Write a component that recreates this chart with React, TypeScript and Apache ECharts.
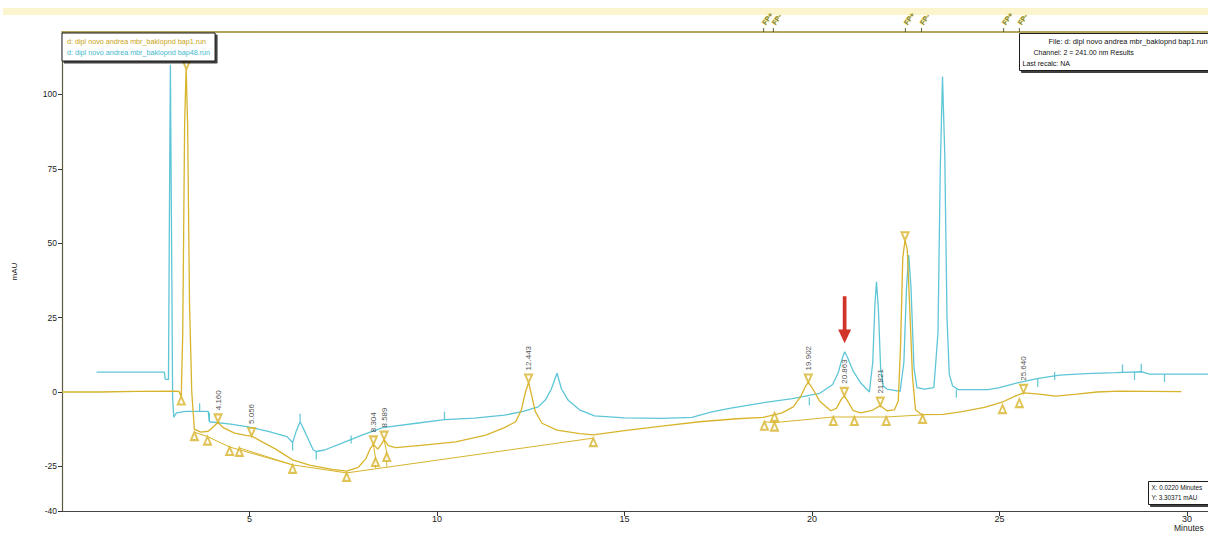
import React, { useEffect, useRef } from 'react';
import * as echarts from 'echarts';

const FONT = '"Liberation Sans", Arial, sans-serif';
const YELLOW = '#d8b42c';
const CYAN = '#5ec6d6';

const FILE1 = 'd: dipl novo andrea mbr_baklopnd bap1.run';
const FILE48 = 'd: dipl novo andrea mbr_baklopnd bap48.run';

const xMin = 0;
const xMax = 30.56;
const yMin = -40;
const yMax = 121;
const yTickValues = [-40, -25, 0, 25, 50, 75, 100];

// bap1.run (yellow) signal: [minutes, mAU]
const yellowSignal: [number, number][] = [
  [0, 0], [1, 0], [2, 0.2], [3.0, 0.3], [3.12, 0.2], [3.18, -1.5], [3.22, 20], [3.27, 90], [3.31, 109],
  [3.35, 90], [3.4, 30], [3.46, 0], [3.53, -12.5], [3.7, -13.5], [3.9, -13.2], [4.05, -11.5], [4.16, -10.2],
  [4.3, -12], [4.6, -13.8], [4.9, -14.6], [5.056, -14.8], [5.3, -16.5], [5.7, -19.2], [6.15, -22.8],
  [6.6, -24.6], [7.2, -26], [7.59, -26.6], [7.9, -25.3], [8.1, -22.5], [8.22, -19], [8.304, -17.6],
  [8.42, -19.2], [8.52, -17.5], [8.589, -16], [8.7, -18], [8.9, -18.7], [9.5, -18], [10.5, -16.8],
  [11.3, -14.5], [11.8, -12], [12.1, -10], [12.25, -6], [12.36, 0], [12.443, 3.2], [12.52, -1],
  [12.62, -6.5], [12.8, -10.5], [13.2, -12.8], [13.8, -14], [14.17, -14.4], [15.0, -13], [16.0, -11.5],
  [17.0, -10], [18.0, -9], [18.7, -8.5], [19.2, -7], [19.5, -5], [19.7, -1.5], [19.83, 2], [19.902, 3.2],
  [20.0, 1.5], [20.2, -3], [20.5, -6.3], [20.65, -5.5], [20.78, -2.5], [20.863, -1.3], [20.95, -3],
  [21.1, -6.3], [21.3, -7], [21.6, -6.2], [21.821, -4.6], [22.0, -6.3], [22.2, -6], [22.3, -3],
  [22.36, 15], [22.42, 45], [22.48, 51], [22.54, 48], [22.6, 30], [22.68, 5], [22.76, -6], [22.92, -7.6],
  [23.5, -7.5], [24.0, -6.6], [24.6, -5.2], [25.11, -3.2], [25.4, -1.5], [25.64, -0.3], [26.0, -0.6],
  [26.5, -1.4], [27.0, -0.8], [27.6, 0], [28.2, 0.3], [29.0, 0.2], [29.85, 0.1],
];

// bap48.run (cyan) signal: [minutes, mAU]
const cyanSignal: [number, number][] = [
  [0.92, 6.7], [2.0, 6.7], [2.73, 6.7], [2.75, 4.3], [2.84, 4.2], [2.86, 50], [2.89, 110], [2.92, 55],
  [2.95, -2], [2.98, -8.5], [3.05, -7], [3.3, -6.5], [3.9, -6.5], [3.93, -10], [4.5, -10.8], [5.0, -11.8],
  [5.5, -13.2], [6.0, -15], [6.15, -17], [6.25, -13], [6.35, -10], [6.5, -14], [6.7, -19.5], [6.78, -20],
  [7.0, -19.5], [7.4, -17.5], [7.7, -16], [8.0, -14.5], [8.55, -12], [9.45, -10.5], [10.2, -9.3],
  [11.0, -8.8], [11.8, -7.8], [12.3, -6.5], [12.7, -5], [12.9, -2.5], [13.05, 1], [13.2, 6.3], [13.32, 1],
  [13.5, -2.8], [13.8, -6], [14.2, -8], [15.0, -8.7], [16.0, -8.9], [16.8, -8.5], [17.3, -6.8],
  [17.8, -5.5], [18.6, -3.8], [19.48, -2.2], [20.2, -0.5], [20.55, 2.5], [20.7, 6.5], [20.8, 11],
  [20.87, 13.5], [20.95, 11.5], [21.1, 7], [21.3, 3], [21.53, 0], [21.62, 10], [21.68, 30], [21.72, 37],
  [21.77, 28], [21.83, 8], [21.9, 2], [22.0, 1], [22.35, 0.2], [22.45, 10], [22.52, 35], [22.58, 46],
  [22.64, 35], [22.72, 8], [22.8, 1.5], [23.0, 1], [23.25, 1.5], [23.36, 20], [23.42, 75], [23.48, 106],
  [23.54, 80], [23.6, 25], [23.66, 6], [23.75, 2], [23.9, 0.8], [24.7, 0.8], [25.0, 1.5], [25.45, 3],
  [26.0, 4.5], [26.6, 5.7], [27.3, 6.2], [28.1, 6.5], [28.8, 6.8], [29.0, 6], [30.56, 6],
];

// integration baselines of bap1.run
const yellowBaselines: [number, number][][] = [
  [[3.53, -13.5], [3.88, -15], [4.47, -18.5], [6.15, -24.5], [7.59, -27.2], [14.17, -15.5]],
  [[4.73, -18.8], [6.15, -24.5]],
  [[8.304, -17.6], [8.36, -22.2], [8.36, -25.6]],
  [[8.589, -16], [8.66, -20.5], [8.66, -25.1]],
  [[18.73, -10], [19.0, -10.3], [20.57, -8.4], [21.13, -8.4], [21.98, -8.4], [22.95, -7.7]],
];

// peak marks (apex down) and their retention-time labels
const peakT = [3.318, 4.16, 5.056, 8.304, 8.589, 12.443, 19.902, 20.863, 21.821, 22.48, 25.64];
const peakV = [108.5, -10.2, -14.8, -17.6, -16, 3.2, 3.2, -1.3, -4.6, 51, -0.3];
const peakLabels = ['3.318', '4.160', '5.056', '8.304', '8.589', '12.443', '19.902', '20.863', '21.821', '', '25.640'];

// baseline marks (apex up)
const baseMarkT = [3.18, 3.53, 3.88, 4.47, 4.73, 6.15, 7.59, 8.36, 8.66, 14.17, 18.73, 19.0, 19.0, 20.57, 21.13, 21.98, 22.95, 25.08, 25.53];
const baseMarkV = [-1.5, -13.5, -15, -18.5, -18.8, -24.5, -27.2, -22.2, -20.5, -15.5, -10, -7, -10.3, -8.4, -8.4, -8.4, -7.7, -4.4, -2.4];

// fraction-collector events along the top
const fpT = [18.71, 18.97, 22.49, 22.92, 25.11, 25.53];
const fpLabels = ['FP+', 'FP-', 'FP+', 'FP-', 'FP+', 'FP-'];

// small integration tick marks on the cyan trace: [minutes, mAU, direction]
const cyanTicks: [number, number, number][] = [
  [3.67, -6.5, 1], [3.93, -8.3, 0], [6.15, -17, -1], [6.35, -10, 1], [6.78, -20, -1], [7.71, -16, 0],
  [10.2, -9.3, 1], [19.93, -1.8, -1], [23.85, 0.8, -1], [26.02, 4.4, -1], [26.47, 5.4, 0],
  [28.28, 6.6, 1], [28.6, 6.7, -1], [28.78, 6.8, 1], [29.4, 6, -1],
];

const arrowAt: [number, number] = [20.87, 13.5];

export default function App() {
  const ref = useRef<HTMLDivElement>(null);

  useEffect(() => {
    if (!ref.current) return;
    const chart = echarts.init(ref.current, null, { renderer: 'svg' });

    const baselineSeries = yellowBaselines.map((seg, i) => ({
      name: 'baseline' + i,
      type: 'line',
      data: seg,
      symbol: 'none',
      lineStyle: { color: YELLOW, width: 1 },
      silent: true,
      z: 3,
    }));

    chart.setOption({
      animation: false,
      textStyle: { fontFamily: FONT },
      grid: { left: 62, top: 32, right: 0, bottom: 23, outerBoundsMode: 'none' },
      legend: {
        orient: 'vertical',
        left: 62,
        top: 33,
        data: [
          { name: FILE1, textStyle: { color: '#c9a415' } },
          { name: FILE48, textStyle: { color: '#3fb9cc' } },
        ],
        icon: 'none',
        itemWidth: 0,
        itemHeight: 0,
        itemGap: 4,
        padding: [5, 5, 5, 0],
        textStyle: { fontSize: 7.2, fontFamily: FONT },
        backgroundColor: '#ffffff',
        borderColor: '#1a1a1a',
        borderWidth: 1,
        shadowColor: 'rgba(0,0,0,0.75)',
        shadowOffsetX: 2,
        shadowOffsetY: 2,
        shadowBlur: 0,
        selectedMode: false,
        z: 10,
      },
      xAxis: [
        {
          type: 'value',
          min: xMin,
          max: xMax,
          interval: 5,
          axisLine: { show: true, onZero: false, lineStyle: { color: '#444', width: 1.2 } },
          axisTick: { show: true, length: 5, inside: false, lineStyle: { color: '#333' } },
          axisLabel: {
            show: true,
            margin: 3,
            fontSize: 9,
            color: '#222',
            showMinLabel: false,
            showMaxLabel: false,
          },
          splitLine: { show: false },
        },
        {
          type: 'value',
          position: 'top',
          min: xMin,
          max: xMax,
          axisLine: { show: true, onZero: false, lineStyle: { color: '#9a8628', width: 1.5 } },
          axisTick: { show: false },
          axisLabel: { show: false },
          splitLine: { show: false },
        },
      ],
      yAxis: {
        type: 'value',
        min: yMin,
        max: yMax,
        name: 'mAU',
        nameLocation: 'middle',
        nameGap: 44,
        nameRotate: 90,
        nameTextStyle: { fontSize: 8, color: '#222' },
        axisLine: { show: true, onZero: false, lineStyle: { color: '#5a5a40', width: 1.2 } },
        axisTick: { show: true, length: 4, customValues: yTickValues, lineStyle: { color: '#333' } },
        axisLabel: { show: true, margin: 5, fontSize: 8.5, color: '#222', customValues: yTickValues },
        splitLine: { show: false },
      },
      series: [
        {
          name: FILE48,
          type: 'line',
          data: cyanSignal,
          symbol: 'none',
          lineStyle: { color: CYAN, width: 1.3 },
          itemStyle: { color: CYAN },
          z: 2,
          markPoint: {
            silent: true,
            data: [
              {
                coord: arrowAt,
                symbol: 'path://M5,0 L9,0 L9,34 L14,34 L7,48 L0,34 L5,34 Z',
                symbolSize: [13, 47],
                symbolOffset: [0, -32],
                itemStyle: { color: '#d1352a' },
                label: { show: false },
              },
            ],
          },
        },
        {
          name: 'cyanTicks',
          type: 'scatter',
          data: cyanTicks.map(([t, v, d]) => ({
            value: [t, v],
            symbolOffset: [0, -d * 4],
          })),
          symbol: 'rect',
          symbolSize: [1.3, 8],
          itemStyle: { color: '#46bccd' },
          silent: true,
          z: 2,
        },
        {
          name: FILE1,
          type: 'line',
          data: yellowSignal,
          symbol: 'none',
          lineStyle: { color: YELLOW, width: 1.3 },
          itemStyle: { color: YELLOW },
          z: 4,
        },
        ...baselineSeries,
        {
          name: 'baseMarks',
          type: 'scatter',
          data: baseMarkT.map((t, i) => [t, baseMarkV[i]]),
          symbol: 'emptyTriangle',
          symbolSize: [7, 8],
          symbolOffset: [0, 4],
          itemStyle: { color: YELLOW, borderWidth: 1.1 },
          silent: true,
          z: 5,
        },
        {
          name: 'peakMarks',
          type: 'scatter',
          data: peakT.map((t, i) => ({ value: [t, peakV[i]], label: { formatter: peakLabels[i] } })),
          symbol: 'emptyTriangle',
          symbolRotate: 180,
          symbolSize: [7, 8],
          symbolOffset: [0, -4],
          itemStyle: { color: YELLOW, borderWidth: 1.1 },
          label: {
            show: true,
            position: 'top',
            distance: 3,
            rotate: 90,
            align: 'left',
            verticalAlign: 'middle',
            fontSize: 8,
            color: '#1a1a1a',
          },
          silent: true,
          clip: false,
          z: 5,
        },
        {
          name: 'fp',
          type: 'scatter',
          data: fpT.map((t, i) => ({ value: [t, yMax], label: { formatter: fpLabels[i] } })),
          symbol: 'rect',
          symbolSize: [1, 4],
          symbolOffset: [0, -2],
          itemStyle: { color: '#3a3a10' },
          label: {
            show: true,
            position: 'top',
            distance: 4,
            rotate: 55,
            align: 'left',
            verticalAlign: 'middle',
            fontSize: 7,
            fontWeight: 'bold',
            color: '#5a6418',
            textBorderColor: '#efe07a',
            textBorderWidth: 1,
          },
          silent: true,
          clip: false,
          z: 5,
        },
      ],
      graphic: [
        {
          type: 'rect',
          left: 3,
          top: 8,
          shape: { width: 1205, height: 7 },
          style: { fill: '#fcf4cc' },
          silent: true,
        },
        {
          type: 'group',
          left: 1019,
          top: 33,
          children: [
            {
              type: 'rect',
              shape: { x: 0, y: 0, width: 195, height: 37 },
              style: { fill: '#fff', stroke: '#1a1a1a', lineWidth: 1, shadowColor: 'rgba(0,0,0,0.75)', shadowOffsetX: 2, shadowOffsetY: 2 },
            },
            {
              type: 'text',
              x: 29,
              y: 4,
              style: { text: 'File: d: dipl novo andrea mbr_baklopnd bap1.run', fill: '#111', font: '7.4px ' + FONT },
            },
            {
              type: 'text',
              x: 14,
              y: 15,
              style: { text: 'Channel: 2 = 241.00 nm Results', fill: '#111', font: '7px ' + FONT },
            },
            {
              type: 'text',
              x: 3,
              y: 26,
              style: { text: 'Last recalc: NA', fill: '#111', font: '7px ' + FONT },
            },
          ],
        },
        {
          type: 'group',
          left: 1148,
          top: 481,
          children: [
            {
              type: 'rect',
              shape: { x: 0, y: 0, width: 70, height: 23 },
              style: { fill: '#fff', stroke: '#1a1a1a', lineWidth: 1, shadowColor: 'rgba(0,0,0,0.75)', shadowOffsetX: 2, shadowOffsetY: 2 },
            },
            {
              type: 'text',
              x: 3,
              y: 3,
              style: { text: 'X: 0.0220 Minutes', fill: '#111', font: '6.3px ' + FONT },
            },
            {
              type: 'text',
              x: 3,
              y: 13,
              style: { text: 'Y: 3.30371 mAU', fill: '#111', font: '6.3px ' + FONT },
            },
          ],
        },
        {
          type: 'text',
          left: 1174,
          top: 523,
          style: { text: 'Minutes', fill: '#222', font: '8.5px ' + FONT },
        },
      ],
    });

    return () => chart.dispose();
  }, []);

  return (
    <div
      ref={ref}
      style={{ position: 'fixed', left: 0, top: 0, width: 1208, height: 534, background: '#fff' }}
    />
  );
}
